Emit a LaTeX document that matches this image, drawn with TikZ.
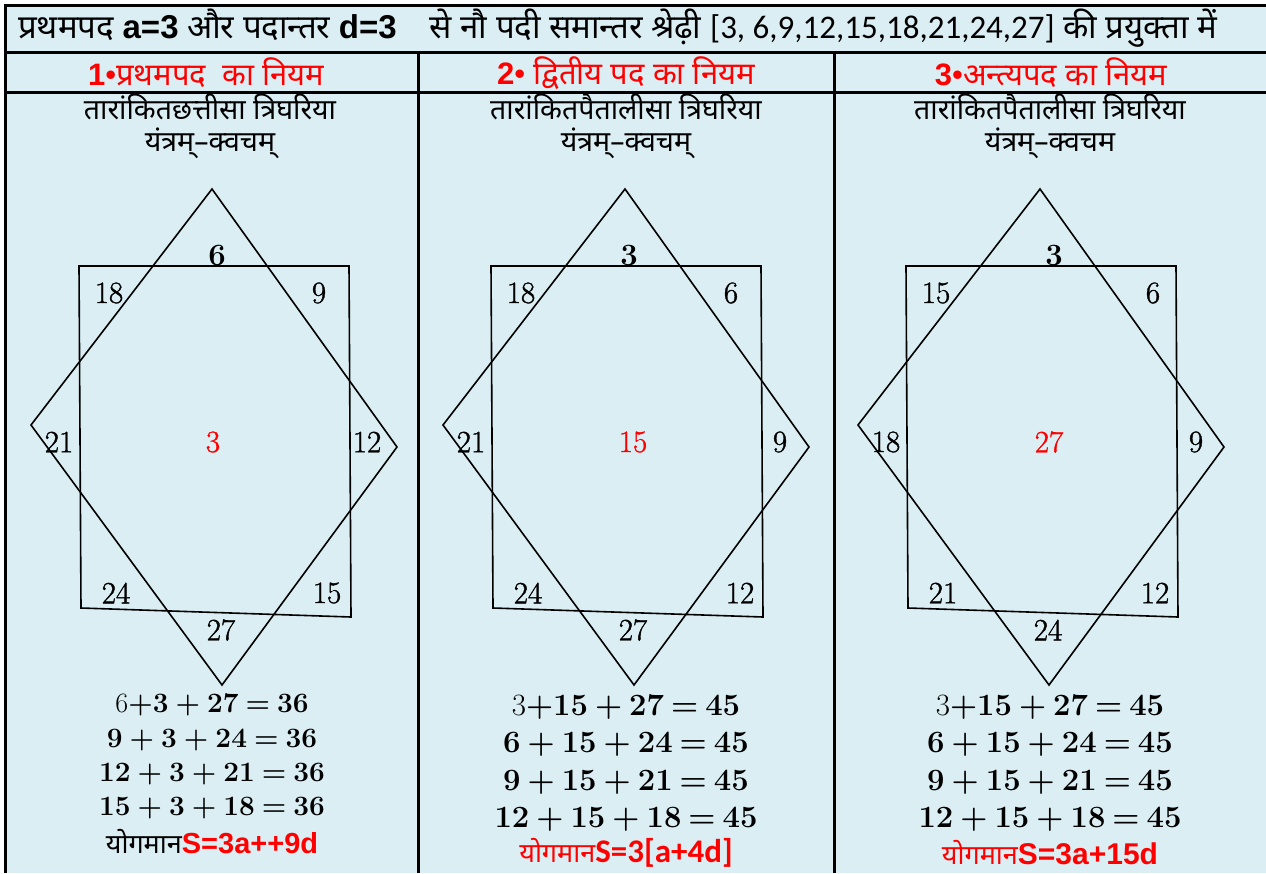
\documentclass[tikz,border=0pt]{standalone}
\usepackage{fontspec}
\newfontfamily\deva[Script=Devanagari]{Noto Sans}
\newfontfamily\arial{Liberation Sans}
\newfontfamily\calib{Carlito}
\newfontfamily\lmheavy[FakeBold=1.2]{Latin Modern Roman}
\definecolor{bgblue}{HTML}{DAEEF3}
\definecolor{hred}{HTML}{FF0000}
\newcommand\gp{\hspace{7pt}}
\tikzset{
  num/.style={font=\lmheavy\fontsize{31}{31}\selectfont, inner sep=0pt},
  bnum/.style={font=\fontsize{31}{31}\selectfont\bfseries, inner sep=0pt},
  cnum/.style={font=\lmheavy\fontsize{31}{31}\selectfont, text=hred, inner sep=0pt},
  eqna/.style={font=\fontsize{28}{28}\selectfont\bfseries, inner sep=0pt},
  eqnb/.style={font=\fontsize{31}{31}\selectfont\bfseries, inner sep=0pt},
  colhead/.style={font=\deva\fontsize{31}{31}\selectfont, text=hred, inner sep=0pt},
  subt/.style={font=\deva\fontsize{28.5}{28.5}\selectfont, inner sep=0pt},
  yshape/.style={line width=1.6pt, line join=miter},
  gridline/.style={line width=3pt},
  sumline/.style={font=\deva\bfseries\fontsize{27}{27}\selectfont, inner sep=0pt}
}
\begin{document}
\begin{tikzpicture}[x=1pt,y=-1pt]
\useasboundingbox (0,0) rectangle (1266,873);
\fill[bgblue] (5,5) rectangle (1266,873);
% table lines
\draw[gridline] (5,873) -- (5,5) -- (1266,5);
\draw[gridline] (5,52) -- (1266,52);
\draw[gridline] (5,92) -- (1266,92);
\draw[gridline] (418,52) -- (418,873);
\draw[gridline] (834,52) -- (834,873);
% title
\node[anchor=west, font=\deva\fontsize{33}{33}\selectfont, inner sep=0pt] (title) at (18,28)
 {प्रथमपद {\arial\bfseries a=3} और पदान्तर {\arial\bfseries d=3}\quad से नौ पदी समान्तर श्रेढ़ी {\calib [3, 6,9,12,15,18,21,24,27]} की प्रयुक्ता में};
% column headers
\node[colhead] (h1) at (206,73) {{\arial\bfseries 1}{\arial •}प्रथमपद\ \ का नियम};
\node[colhead] (h2) at (626,73) {{\arial\bfseries 2}{\arial •} द्वितीय पद का नियम};
\node[colhead] (h3) at (1051,73) {{\arial\bfseries 3}{\arial •}अन्त्यपद का नियम};
% subtitles
\node[subt] (s1a) at (210,107) {तारांकितछत्तीसा त्रिघरिया};
\node[subt] (s1b) at (210,143) {यंत्रम्–क्वचम्};
\node[subt] (s2a) at (626,107) {तारांकितपैतालीसा त्रिघरिया};
\node[subt] (s2b) at (626,143) {यंत्रम्–क्वचम्};
\node[subt] (s3a) at (1050,107) {तारांकितपैतालीसा त्रिघरिया};
\node[subt] (s3b) at (1050,143) {यंत्रम्–क्वचम};
% ---- column 1 yantra
\draw[yshape] (212,189) -- (397,447) -- (222,685) -- (31,425) -- cycle;
\draw[yshape] (79,266) -- (349,266) -- (351,617) -- (81,608) -- cycle;
\node[bnum] (a1) at (217,256) {6};
\node[num] (a2) at (109,293) {18};
\node[num] (a3) at (319,293) {9};
\node[num] (a4) at (59,442) {21};
\node[cnum] (a5) at (213,442) {3};
\node[num] (a6) at (367,442) {12};
\node[num] (a7) at (116,593) {24};
\node[num] (a8) at (327,593) {15};
\node[num] (a9) at (221,630) {27};
% ---- column 2 yantra
\draw[yshape] (625,189) -- (809,447) -- (634,685) -- (443,425) -- cycle;
\draw[yshape] (491,266) -- (761,266) -- (763,617) -- (493,608) -- cycle;
\node[bnum] (b1) at (629,256) {3};
\node[num] (b2) at (521,293) {18};
\node[num] (b3) at (731,293) {6};
\node[num] (b4) at (471,442) {21};
\node[cnum] (b5) at (633,442) {15};
\node[num] (b6) at (780,442) {9};
\node[num] (b7) at (528,593) {24};
\node[num] (b8) at (740,593) {12};
\node[num] (b9) at (633,630) {27};
% ---- column 3 yantra
\draw[yshape] (1040,189) -- (1224,447) -- (1049,685) -- (858,425) -- cycle;
\draw[yshape] (906,266) -- (1176,266) -- (1178,617) -- (908,608) -- cycle;
\node[bnum] (c1) at (1054,256) {3};
\node[num] (c2) at (936,293) {15};
\node[num] (c3) at (1153,293) {6};
\node[num] (c4) at (886,442) {18};
\node[cnum] (c5) at (1049,442) {27};
\node[num] (c6) at (1196,442) {9};
\node[num] (c7) at (943,593) {21};
\node[num] (c8) at (1155,593) {12};
\node[num] (c9) at (1048,630) {24};
% ---- equations column 1
\node[eqna] (e11) at (212,705) {{\mdseries 6}+3\gp+\gp27\gp=\gp36};
\node[eqna] (e12) at (212,740) {9\gp+\gp3\gp+\gp24\gp=\gp36};
\node[eqna] (e13) at (212,774) {12\gp+\gp3\gp+\gp21\gp=\gp36};
\node[eqna] (e14) at (212,808) {15\gp+\gp3\gp+\gp18\gp=\gp36};
\node[sumline] (y1) at (212,842) {योगमान{\arial\bfseries\fontsize{29}{29}\selectfont\color{hred}S=3a++9d}};
% ---- equations column 2
\node[eqnb] (e21) at (626,707) {{\mdseries 3}+15\gp+\gp27\gp=\gp45};
\node[eqnb] (e22) at (626,744) {6\gp+\gp15\gp+\gp24\gp=\gp45};
\node[eqnb] (e23) at (626,782) {9\gp+\gp15\gp+\gp21\gp=\gp45};
\node[eqnb] (e24) at (626,819) {12\gp+\gp15\gp+\gp18\gp=\gp45};
\node[sumline, text=hred] (y2) at (626,853) {योगमान{\calib\bfseries\fontsize{33}{33}\selectfont S=3[a+4d]}};
% ---- equations column 3
\node[eqnb] (e31) at (1050,707) {{\mdseries 3}+15\gp+\gp27\gp=\gp45};
\node[eqnb] (e32) at (1050,744) {6\gp+\gp15\gp+\gp24\gp=\gp45};
\node[eqnb] (e33) at (1050,782) {9\gp+\gp15\gp+\gp21\gp=\gp45};
\node[eqnb] (e34) at (1050,819) {12\gp+\gp15\gp+\gp18\gp=\gp45};
\node[sumline, text=hred] (y3) at (1050,853) {योगमान{\arial\bfseries\fontsize{30}{30}\selectfont S=3a+15d}};
\end{tikzpicture}
\end{document}
